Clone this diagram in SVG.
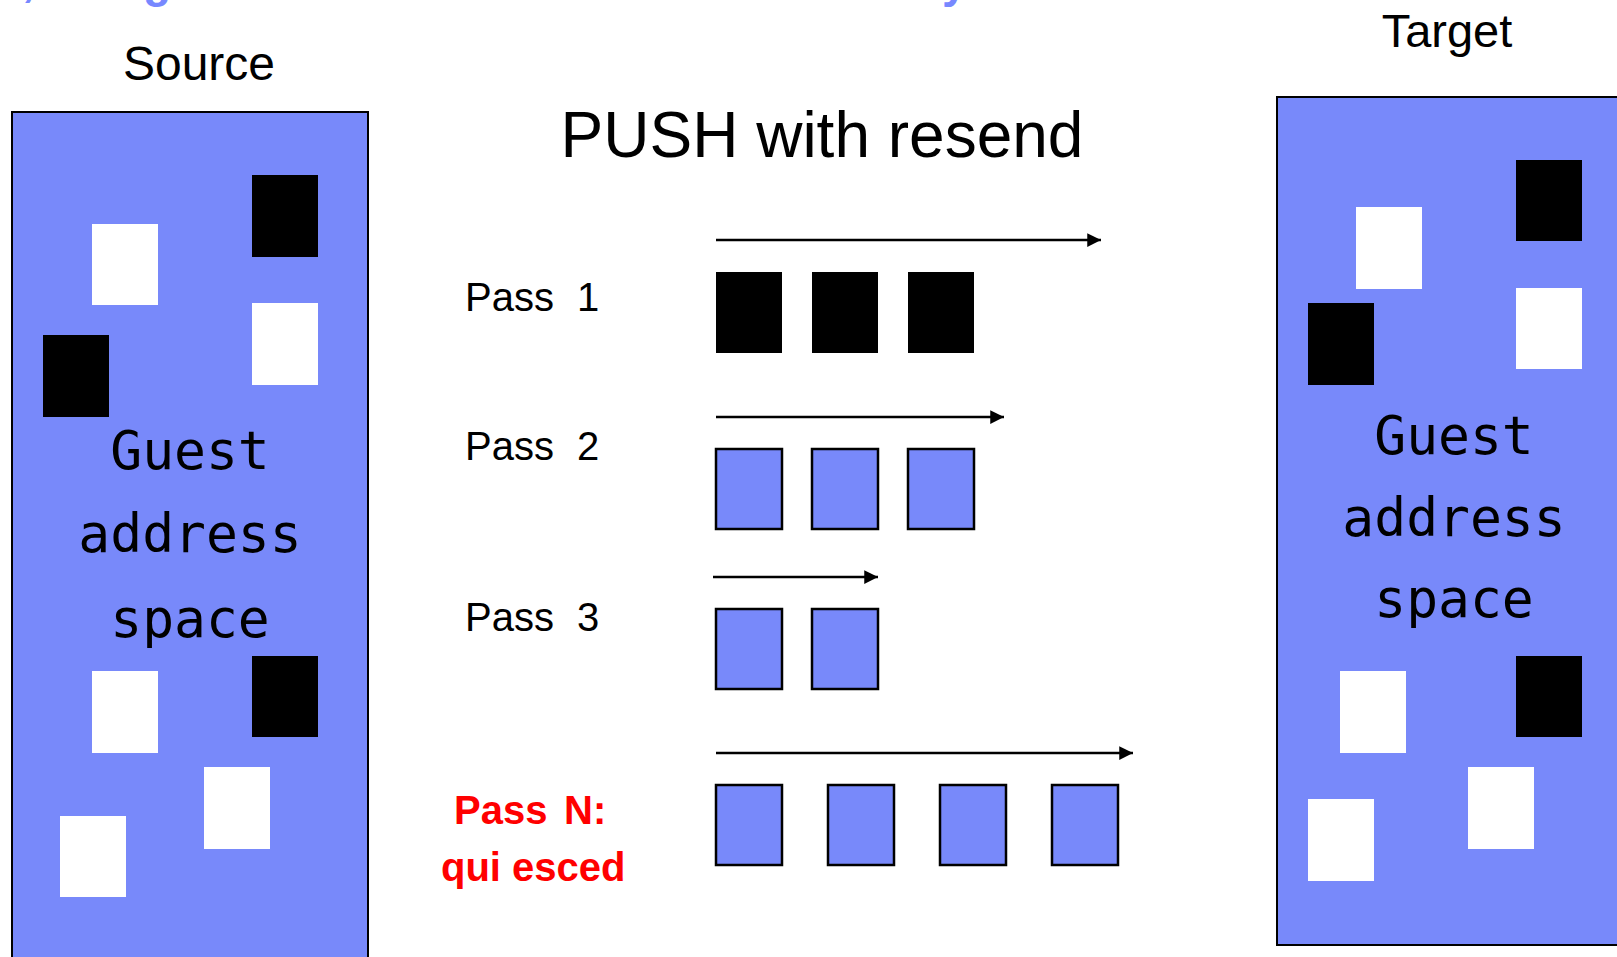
<svg xmlns="http://www.w3.org/2000/svg" width="1617" height="957" viewBox="0 0 1617 957">
<style>
.bg{fill:#ffffff}
.space{fill:#7889fa;stroke:#000;stroke-width:2}
.w{fill:#ffffff}
.k{fill:#000000}
.pg{fill:#7889fa;stroke:#000;stroke-width:2.5}
.lbl{font-family:"Liberation Sans",Arial,sans-serif;fill:#000}
.mono{font-family:"DejaVu Sans Mono","Liberation Mono",monospace;font-size:53px;fill:#000;text-anchor:middle}
.pass{font-family:"Liberation Sans",Arial,sans-serif;font-size:40px;fill:#000}
.red{font-family:"Liberation Sans",Arial,sans-serif;font-size:40px;fill:#ff0000;font-weight:bold}
.arr{stroke:#000;stroke-width:2.5;fill:none;marker-end:url(#ah)}
.frag{font-family:"Liberation Sans",Arial,sans-serif;font-size:46px;font-weight:bold;fill:#7788ff}
</style>
<defs>
<marker id="ah" viewBox="0 0 10 10" refX="10" refY="5" markerWidth="6" markerHeight="5.5" markerUnits="strokeWidth" orient="auto">
<path d="M0,0 L10,5 L0,10 z" fill="#000"/>
</marker>
</defs>
<rect class="bg" x="0" y="0" width="1617" height="957"/>
<g id="title-fragments">
<text class="frag" x="22" y="-4">,</text>
<text class="frag" x="143" y="-3">g</text>
<text class="frag" x="942" y="-3">y</text>
</g>
<g id="title">
<text class="lbl" x="822" y="157" font-size="64" text-anchor="middle">PUSH with resend</text>
</g>
<g id="source">
<text class="lbl" x="199" y="80" font-size="48" text-anchor="middle">Source</text>
<rect class="space" x="12" y="112" width="356" height="860"/>
<rect class="w" x="92" y="224" width="66" height="81"/>
<rect class="k" x="252" y="175" width="66" height="82"/>
<rect class="k" x="43" y="335" width="66" height="82"/>
<rect class="w" x="252" y="303" width="66" height="82"/>
<rect class="w" x="92" y="671" width="66" height="82"/>
<rect class="k" x="252" y="656" width="66" height="81"/>
<rect class="w" x="204" y="767" width="66" height="82"/>
<rect class="w" x="60" y="816" width="66" height="81"/>
<text class="mono" x="190" y="469">Guest</text>
<text class="mono" x="190" y="552">address</text>
<text class="mono" x="190" y="637">space</text>
</g>
<g id="target">
<text class="lbl" x="1447" y="47" font-size="47" text-anchor="middle">Target</text>
<rect class="space" x="1277" y="97" width="360" height="848"/>
<rect class="k" x="1516" y="160" width="66" height="81"/>
<rect class="w" x="1356" y="207" width="66" height="82"/>
<rect class="k" x="1308" y="303" width="66" height="82"/>
<rect class="w" x="1516" y="288" width="66" height="81"/>
<rect class="w" x="1340" y="671" width="66" height="82"/>
<rect class="k" x="1516" y="656" width="66" height="81"/>
<rect class="w" x="1468" y="767" width="66" height="82"/>
<rect class="w" x="1308" y="799" width="66" height="82"/>
<text class="mono" x="1454" y="454">Guest</text>
<text class="mono" x="1454" y="536">address</text>
<text class="mono" x="1454" y="617">space</text>
</g>
<g id="pass1">
<text class="pass" x="465" y="311">Pass<tspan x="577">1</tspan></text>
<rect class="k" x="716" y="272" width="66" height="81"/>
<rect class="k" x="812" y="272" width="66" height="81"/>
<rect class="k" x="908" y="272" width="66" height="81"/>
</g>
<g id="pass2">
<text class="pass" x="465" y="460">Pass<tspan x="577">2</tspan></text>
<rect class="pg" x="716" y="449" width="66" height="80"/>
<rect class="pg" x="812" y="449" width="66" height="80"/>
<rect class="pg" x="908" y="449" width="66" height="80"/>
</g>
<g id="pass3">
<text class="pass" x="465" y="631">Pass<tspan x="577">3</tspan></text>
<rect class="pg" x="716" y="609" width="66" height="80"/>
<rect class="pg" x="812" y="609" width="66" height="80"/>
</g>
<g id="passN">
<text class="red" x="454" y="824">Pass<tspan x="564">N:</tspan></text>
<text class="red" x="441" y="881">qui esced</text>
<rect class="pg" x="716" y="785" width="66" height="80"/>
<rect class="pg" x="828" y="785" width="66" height="80"/>
<rect class="pg" x="940" y="785" width="66" height="80"/>
<rect class="pg" x="1052" y="785" width="66" height="80"/>
</g>
<g id="connectors">
<line class="arr" x1="716" y1="240" x2="1101" y2="240"/>
<line class="arr" x1="716" y1="417" x2="1004" y2="417"/>
<line class="arr" x1="713" y1="577" x2="878" y2="577"/>
<line class="arr" x1="716" y1="753" x2="1133" y2="753"/>
</g>
</svg>
